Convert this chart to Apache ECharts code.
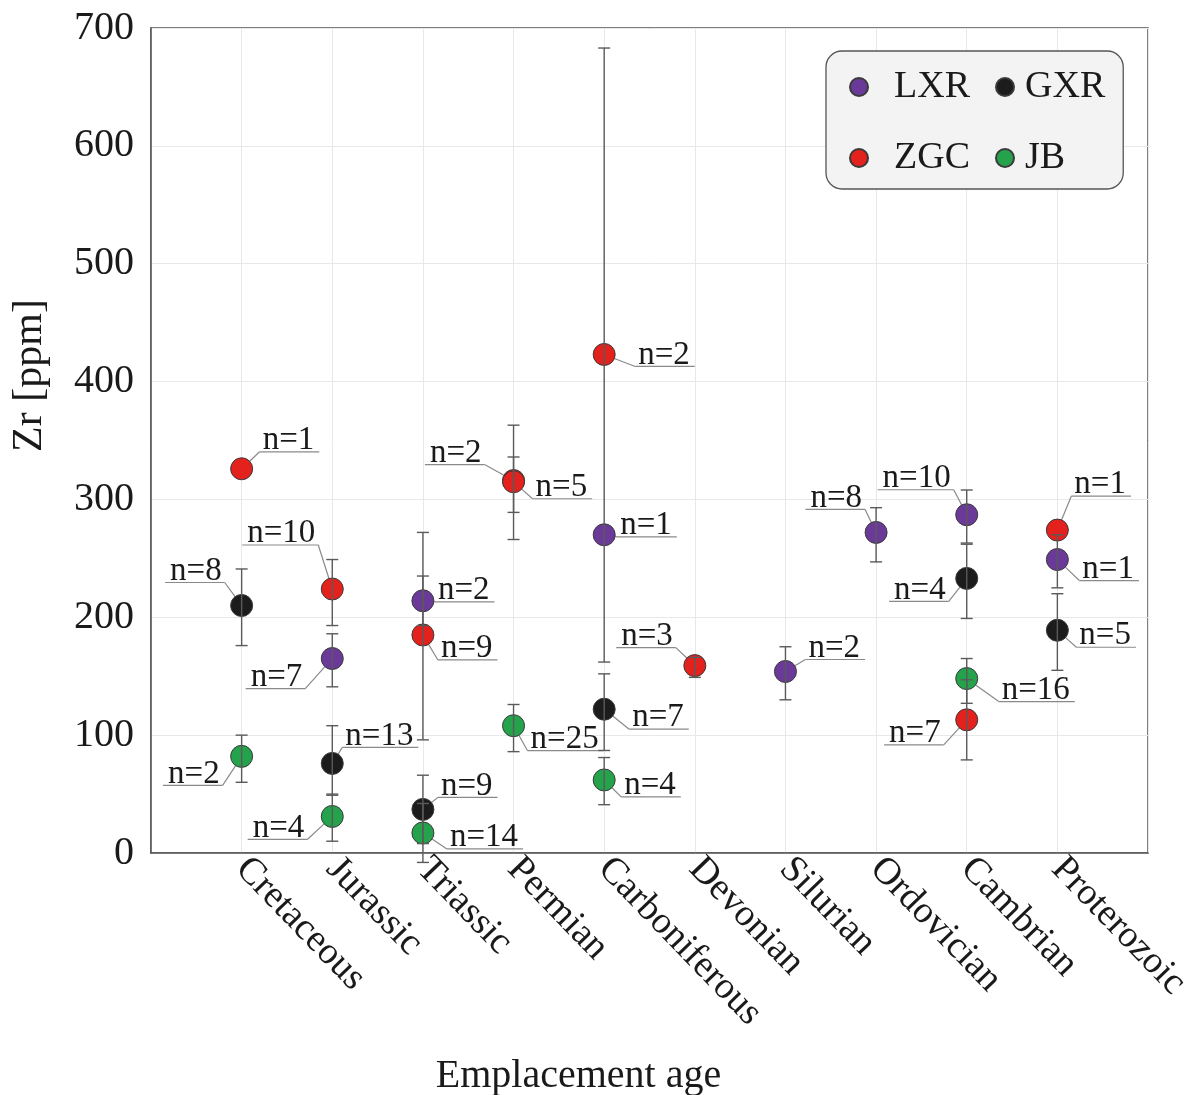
<!DOCTYPE html>
<html>
<head>
<meta charset="utf-8">
<script src="https://cdn.jsdelivr.net/npm/echarts@6/dist/echarts.min.js"></script>
<style>
  html, body { margin: 0; padding: 0; background: #ffffff; overflow: hidden; }
  #chart { width: 1189px; height: 1095px; }
</style>
</head>
<body>
<div id="chart"></div>
<script>
// Geological periods along the x axis (placed at positions 1..10)
const ages = ['Cretaceous', 'Jurassic', 'Triassic', 'Permian', 'Carboniferous',
              'Devonian', 'Silurian', 'Ordovician', 'Cambrian', 'Proterozoic'];

// Zr tick values
const yTicks = [0, 100, 200, 300, 400, 500, 600, 700];

// Rows: [age, mean Zr (ppm), lower bound, upper bound, number of samples]
const lxrRows = [
  ['Jurassic',      165, 141, 186, 7],
  ['Triassic',      214, 193, 235, 2],
  ['Carboniferous', 270, null, null, 1],
  ['Silurian',      154, 130, 175, 2],
  ['Ordovician',    272, 247, 293, 8],
  ['Cambrian',      287, 263, 308, 10],
  ['Proterozoic',   249, 225, 270, 1]
];
const gxrRows = [
  ['Cretaceous',    210, 176, 241, 8],
  ['Jurassic',       76,  49, 108, 13],
  ['Triassic',       37,   8,  66, 9],
  ['Carboniferous', 122,  87, 152, 7],
  ['Cambrian',      233, 199, 262, 4],
  ['Proterozoic',   189, 155, 220, 5]
];
const zgcRows = [
  ['Cretaceous',    326, null, null, 1],
  ['Jurassic',      224, 193, 249, 10],
  ['Triassic',      185,  96, 272, 9],
  ['Permian',       316, 289, 336, 2],
  ['Permian',       315, 266, 363, 5],
  ['Carboniferous', 423, 162, 683, 2],
  ['Devonian',      159, 149, 166, 3],
  ['Cambrian',      113,  79, 147, 7],
  ['Proterozoic',   274, null, null, 1]
];
const jbRows = [
  ['Cretaceous',     82,  60, 100, 2],
  ['Jurassic',       31,  10,  50, 4],
  ['Triassic',       17,  -8,  42, 14],
  ['Permian',       108,  86, 126, 25],
  ['Carboniferous',  62,  41,  81, 4],
  ['Cambrian',      148, 127, 165, 16]
];

// Where each "n=" tag sits relative to its marker (pixels, to the near end of its underline)
const lxrTagOffsets = [[-27, 30], [12, 1], [13, 2], [20, -12], [-11, -23], [-13, -25], [22, 21]];
const gxrTagOffsets = [[-17, -23], [10, -16], [15, -12], [25, 20], [-18, 23], [19, 17]];
const zgcTagOffsets = [[18, -17], [-14, -44], [15, 25], [-29, -16], [19, 17], [31, 12], [-19, -18], [-23, 25], [14, -34]];
const jbTagOffsets  = [[-19, 29], [-25, 23], [24, 16], [14, 25], [17, 17], [32, 23]];

const groups = [
  { name: 'LXR', color: '#6b3a98', rows: lxrRows, tags: lxrTagOffsets },
  { name: 'GXR', color: '#1c1c1c', rows: gxrRows, tags: gxrTagOffsets },
  { name: 'ZGC', color: '#e3221e', rows: zgcRows, tags: zgcTagOffsets },
  { name: 'JB',  color: '#25a24c', rows: jbRows,  tags: jbTagOffsets }
];

const SERIF = '"Liberation Serif", "Times New Roman", serif';
const TAG_FONT_SIZE = 33;
const MARKER_SIZE = 22;

const measureCtx = document.createElement('canvas').getContext('2d');
measureCtx.font = TAG_FONT_SIZE + 'px ' + SERIF;
function textWidth(s) { return measureCtx.measureText(s).width; }

function agePos(age) { return ages.indexOf(age) + 1; }

// Vertical error bars with small caps
function renderErrorBar(params, api) {
  const x = api.value(0);
  const lo = api.coord([x, api.value(2)]);
  const hi = api.coord([x, api.value(3)]);
  const w = 6;
  const st = { stroke: '#5a5a5a', lineWidth: 1.4 };
  return {
    type: 'group',
    children: [
      { type: 'line', shape: { x1: lo[0], y1: lo[1], x2: hi[0], y2: hi[1] }, style: st },
      { type: 'line', shape: { x1: lo[0] - w, y1: lo[1], x2: lo[0] + w, y2: lo[1] }, style: st },
      { type: 'line', shape: { x1: hi[0] - w, y1: hi[1], x2: hi[0] + w, y2: hi[1] }, style: st }
    ]
  };
}

// "n=" tags: leader line from the marker to an underlined text
function renderTag(params, api) {
  const p = api.coord([api.value(0), api.value(1)]);
  const dx = api.value(2), dy = api.value(3);
  const text = 'n=' + api.value(4);
  const tw = textWidth(text);
  const ux = p[0] + dx, uy = p[1] + dy;
  const right = dx > 0;
  const ulen = tw + 8;
  const x2 = right ? ux + ulen : ux - ulen;
  const lineStyle = { stroke: '#8a8a8a', lineWidth: 1.2 };
  const children = [];
  const dist = Math.hypot(dx, dy);
  const r = MARKER_SIZE / 2;
  if (dist > r + 1) {
    children.push({
      type: 'line',
      shape: { x1: p[0] + dx / dist * r, y1: p[1] + dy / dist * r, x2: ux, y2: uy },
      style: lineStyle
    });
  }
  children.push({ type: 'line', shape: { x1: ux, y1: uy, x2: x2, y2: uy }, style: lineStyle });
  children.push({
    type: 'text',
    style: {
      text: text,
      x: right ? ux + 3 : ux - 3,
      y: uy + 5,
      align: right ? 'left' : 'right',
      verticalAlign: 'bottom',
      fontSize: TAG_FONT_SIZE,
      fontFamily: SERIF,
      fill: '#1a1a1a'
    }
  });
  return { type: 'group', children: children };
}

const series = [];
groups.forEach(function (g) {
  series.push({
    name: g.name,
    type: 'scatter',
    symbol: 'circle',
    symbolSize: MARKER_SIZE,
    z: 3,
    itemStyle: { color: g.color, borderColor: '#3a3a3a', borderWidth: 1, opacity: 1 },
    data: g.rows.map(function (r) { return [agePos(r[0]), r[1]]; })
  });
});
groups.forEach(function (g) {
  series.push({
    type: 'custom',
    renderItem: renderErrorBar,
    z: 4,
    silent: true,
    data: g.rows.filter(function (r) { return r[2] !== null; })
                .map(function (r) { return [agePos(r[0]), r[1], r[2], r[3]]; })
  });
  series.push({
    type: 'custom',
    renderItem: renderTag,
    z: 2,
    silent: true,
    data: g.rows.map(function (r, i) { return [agePos(r[0]), r[1], g.tags[i][0], g.tags[i][1], r[4]]; })
  });
});

const chart = echarts.init(document.getElementById('chart'), null, { renderer: 'canvas', width: 1189, height: 1095 });
chart.setOption({
  backgroundColor: '#ffffff',
  animation: false,
  textStyle: { fontFamily: SERIF },
  grid: {
    left: 151, right: 41, top: 28, bottom: 242,
    containLabel: false,
    outerBoundsMode: 'none',
    show: true, borderColor: '#555555', borderWidth: 1.5, backgroundColor: 'transparent'
  },
  legend: {
    left: 826, top: 51,
    width: 262,
    orient: 'horizontal',
    icon: 'circle',
    itemWidth: 18, itemHeight: 18,
    itemGap: 25,
    padding: [13, 18, 8, 23],
    backgroundColor: '#f3f3f3',
    borderColor: '#555555',
    borderWidth: 1.3,
    borderRadius: 16,
    textStyle: { fontFamily: SERIF, fontSize: 38, color: '#1a1a1a', lineHeight: 46 },
    data: [
      { name: 'LXR', textStyle: { padding: [0, 0, 0, 21] } },
      { name: 'GXR', textStyle: { padding: [0, 0, 0, 6] } },
      { name: 'ZGC', textStyle: { padding: [0, 0, 0, 21] } },
      { name: 'JB',  textStyle: { padding: [0, 0, 0, 6] } }
    ]
  },
  xAxis: {
    type: 'value',
    min: 0, max: ages.length + 1, interval: 1,
    axisLine: { show: true, lineStyle: { color: '#555555', width: 1.5 } },
    axisTick: { show: false },
    splitLine: { show: true, lineStyle: { color: '#e8e8e8', width: 1 } },
    axisLabel: {
      formatter: function (v) { return ages[v - 1] || ''; },
      rotate: -46,
      margin: 10,
      padding: [30, 0, 0, 0],
      fontSize: 38,
      fontFamily: SERIF,
      color: '#1a1a1a'
    },
    name: 'Emplacement age',
    nameLocation: 'middle',
    nameGap: 203,
    nameTextStyle: { fontSize: 40, fontFamily: SERIF, color: '#1a1a1a', padding: [0, 142, 0, 0] }
  },
  yAxis: {
    type: 'value',
    min: yTicks[0], max: yTicks[yTicks.length - 1], interval: yTicks[1] - yTicks[0],
    axisLine: { show: true, lineStyle: { color: '#555555', width: 1.5 } },
    axisTick: { show: false },
    splitLine: { show: true, lineStyle: { color: '#e8e8e8', width: 1 } },
    axisLabel: { margin: 17, fontSize: 40, fontFamily: SERIF, color: '#1a1a1a' },
    name: 'Zr [ppm]',
    nameLocation: 'middle',
    nameGap: 100,
    nameTextStyle: { fontSize: 42, fontFamily: SERIF, color: '#1a1a1a', padding: [0, 0, 0, 130] }
  },
  series: series
});
</script>
</body>
</html>
